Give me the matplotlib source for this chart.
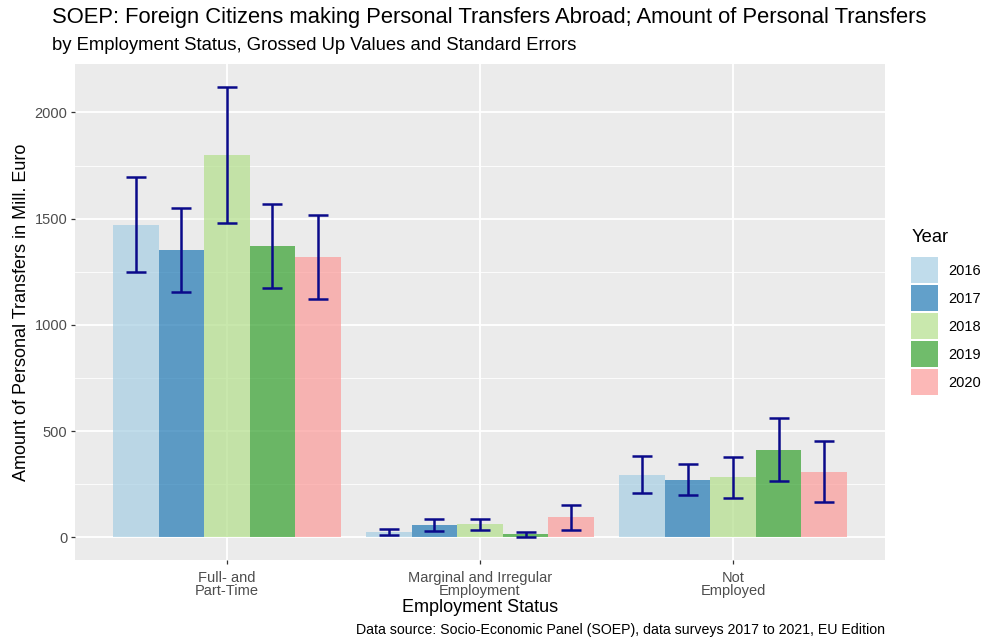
import numpy as np
import matplotlib
matplotlib.use("Agg")
import matplotlib.pyplot as plt
from matplotlib.patches import Patch

plt.rcParams["font.family"] = ["Liberation Sans", "DejaVu Sans"]

# grossed-up transfer amounts (Mill. Euro) and standard errors by employment status
categories = ["Full- and\nPart-Time", "Marginal and Irregular\nEmployment", "Not\nEmployed"]
years = ["2016", "2017", "2018", "2019", "2020"]
amount = {
    "2016": [1472, 26, 296],
    "2017": [1352, 60, 272],
    "2018": [1800, 62, 284],
    "2019": [1373, 15, 412],
    "2020": [1320, 95, 310],
}
std_err = {
    "2016": [225, 16, 87],
    "2017": [197, 28, 73],
    "2018": [322, 26, 96],
    "2019": [198, 12, 148],
    "2020": [197, 59, 145],
}
colors = ["#A6CEE3", "#1F78B4", "#B2DF8A", "#33A02C", "#FB9A99"]

W, H = 989, 641
fig = plt.figure(figsize=(W / 100, H / 100), dpi=100)
ax = fig.add_axes([75 / W, (H - 560) / H, 810 / W, 496 / H])
ax.set_facecolor("#EBEBEB")

x = np.arange(1, len(categories) + 1)
bw = 0.9 / len(years)
for i, (yr, col) in enumerate(zip(years, colors)):
    pos = x - 0.45 + bw * (i + 0.5)
    ax.bar(pos, amount[yr], width=bw, color=col, alpha=0.7, linewidth=0, zorder=2)
    ax.errorbar(pos, amount[yr], yerr=std_err[yr], fmt="none", ecolor="#0A0A8A",
                elinewidth=1.8, capsize=7.2, capthick=1.8, zorder=3)

# ggplot-like 5% expansion
hi = max(max(np.add(amount[y], std_err[y])) for y in years)
lo = min(0, min(min(np.subtract(amount[y], std_err[y])) for y in years))
pad = 0.05 * (hi - lo)
ax.set_ylim(lo - pad, hi + pad)
ax.set_xlim(0.4, 3.6)

ax.set_yticks([0, 500, 1000, 1500, 2000])
ax.set_yticks([250, 750, 1250, 1750], minor=True)
ax.set_xticks(x)
ax.set_xticklabels(categories, linespacing=0.9)
ax.grid(which="major", color="white", linewidth=1.3, zorder=0)
ax.grid(which="minor", axis="y", color="white", linewidth=0.6, zorder=0)
ax.set_axisbelow(True)
for s in ax.spines.values():
    s.set_visible(False)
ax.tick_params(which="major", length=3, width=0.9, color="#333333", labelcolor="#4D4D4D",
               labelsize=10.5, pad=2.5)
ax.tick_params(axis="x", which="major", pad=5)
ax.tick_params(which="minor", length=0)

ax.set_ylabel("Amount of Personal Transfers in Mill. Euro", fontsize=13, labelpad=3)
ax.set_xlabel("Employment Status", fontsize=13, labelpad=1)

fig.text(52 / W, 1 - 18 / H, "SOEP: Foreign Citizens making Personal Transfers Abroad; Amount of Personal Transfers",
         fontsize=15.8, va="center", ha="left")
fig.text(52 / W, 1 - 46 / H, "by Employment Status, Grossed Up Values and Standard Errors",
         fontsize=13.3, va="center", ha="left")
fig.text(885 / W, 1 - 630 / H, "Data source: Socio-Economic Panel (SOEP), data surveys 2017 to 2021, EU Edition",
         fontsize=10.2, va="center", ha="right")

# legend: title placed on its own, keys stacked below it
fig.text(912 / W, 1 - 238 / H, "Year", fontsize=13.2, va="center", ha="left")
handles = [Patch(facecolor=c, alpha=0.7, edgecolor="none") for c in colors]
leg = fig.legend(handles, years, loc="upper left",
                 bbox_to_anchor=(898 / W, 1 - 244 / H), frameon=False,
                 fontsize=10.5, handlelength=1.85, handleheight=2.36,
                 labelspacing=0.14, handletextpad=0.68)

fig.savefig("out.png", dpi=100)
